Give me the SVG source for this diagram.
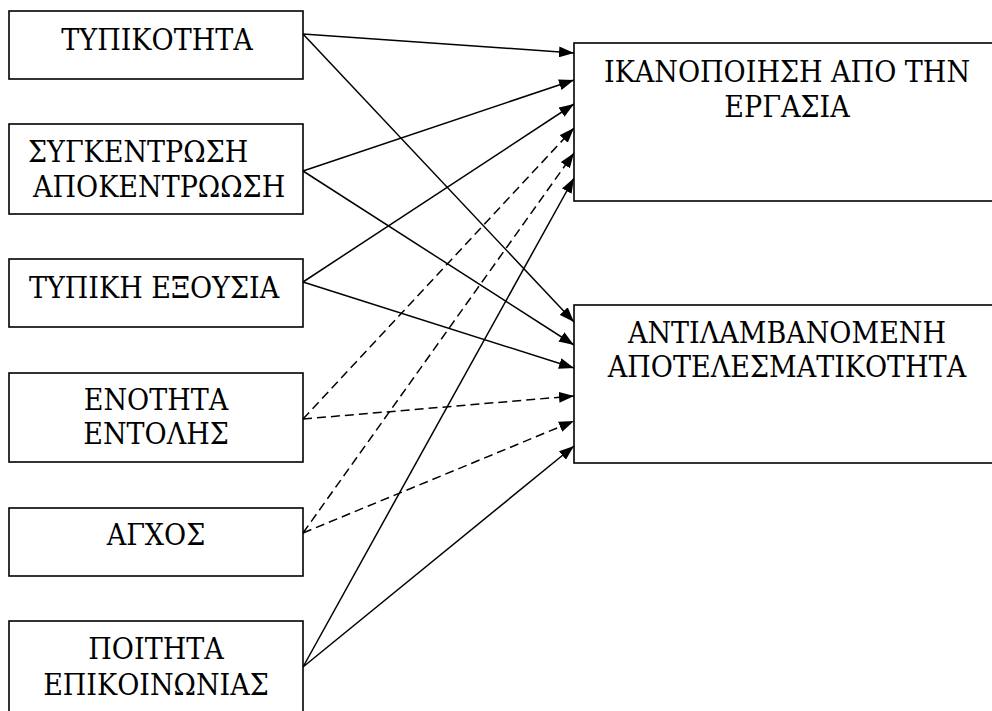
<svg xmlns="http://www.w3.org/2000/svg" width="992" height="711" viewBox="0 0 992 711">
<defs>
<style>
.box{fill:#fff;stroke:#000;stroke-width:1.6}
.t{font-family:"DejaVu Serif Condensed","DejaVu Serif","Liberation Serif",serif;font-stretch:condensed;font-size:30px;fill:#000}
.c{text-anchor:middle}
.ln{stroke:#000;stroke-width:1.5;fill:none;marker-end:url(#ah)}
.d{stroke-dasharray:9 5}
</style>
<marker id="ah" viewBox="0 0 15 11" refX="15" refY="5.5" markerWidth="15" markerHeight="11" markerUnits="userSpaceOnUse" orient="auto">
<path d="M0,0 L15,5.5 L0,11 z" fill="#000"/>
</marker>
</defs>
<rect width="992" height="711" fill="#fff"/>
<g id="connectors">
<line class="ln" x1="303" y1="34" x2="574" y2="53"/>
<line class="ln" x1="303" y1="34" x2="574" y2="322"/>
<line class="ln" x1="303" y1="171" x2="574" y2="80"/>
<line class="ln" x1="303" y1="171" x2="574" y2="345"/>
<line class="ln" x1="303" y1="282" x2="574" y2="104"/>
<line class="ln" x1="303" y1="282" x2="574" y2="368"/>
<line class="ln d" x1="303" y1="419" x2="574" y2="128"/>
<line class="ln d" x1="303" y1="419" x2="574" y2="396"/>
<line class="ln d" x1="303" y1="533" x2="574" y2="153"/>
<line class="ln d" x1="303" y1="533" x2="574" y2="421"/>
<line class="ln" x1="303" y1="667" x2="574" y2="178"/>
<line class="ln" x1="303" y1="667" x2="574" y2="446"/>
</g>
<g id="n1">
<rect class="box" x="9" y="11" width="294" height="68"/>
<text class="t c" x="157" y="50">ΤΥΠΙΚΟΤΗΤΑ</text>
</g>
<g id="n2">
<rect class="box" x="9" y="124" width="294" height="90"/>
<text class="t" x="28" y="162">ΣΥΓΚΕΝΤΡΩΣΗ</text>
<text class="t" x="33" y="197">ΑΠΟΚΕΝΤΡΩΩΣΗ</text>
</g>
<g id="n3">
<rect class="box" x="9" y="259" width="294" height="68"/>
<text class="t" x="29" y="298">ΤΥΠΙΚΗ ΕΞΟΥΣΙΑ</text>
</g>
<g id="n4">
<rect class="box" x="9" y="373" width="294" height="89"/>
<text class="t c" x="156" y="410">ΕΝΟΤΗΤΑ</text>
<text class="t c" x="156" y="444">ΕΝΤΟΛΗΣ</text>
</g>
<g id="n5">
<rect class="box" x="9" y="508" width="294" height="68"/>
<text class="t c" x="156" y="545">ΑΓΧΟΣ</text>
</g>
<g id="n6">
<rect class="box" x="9" y="621" width="294" height="100"/>
<text class="t c" x="156" y="659">ΠΟΙΤΗΤΑ</text>
<text class="t c" x="156" y="695">ΕΠΙΚΟΙΝΩΝΙΑΣ</text>
</g>
<g id="nA">
<rect class="box" x="574" y="43" width="426" height="158"/>
<text class="t c" x="787" y="82">ΙΚΑΝΟΠΟΙΗΣΗ ΑΠΟ ΤΗΝ</text>
<text class="t c" x="787" y="117">ΕΡΓΑΣΙΑ</text>
</g>
<g id="nB">
<rect class="box" x="574" y="305" width="426" height="158"/>
<text class="t c" x="787" y="343">ΑΝΤΙΛΑΜΒΑΝΟΜΕΝΗ</text>
<text class="t c" x="787" y="377">ΑΠΟΤΕΛΕΣΜΑΤΙΚΟΤΗΤΑ</text>
</g>
</svg>
